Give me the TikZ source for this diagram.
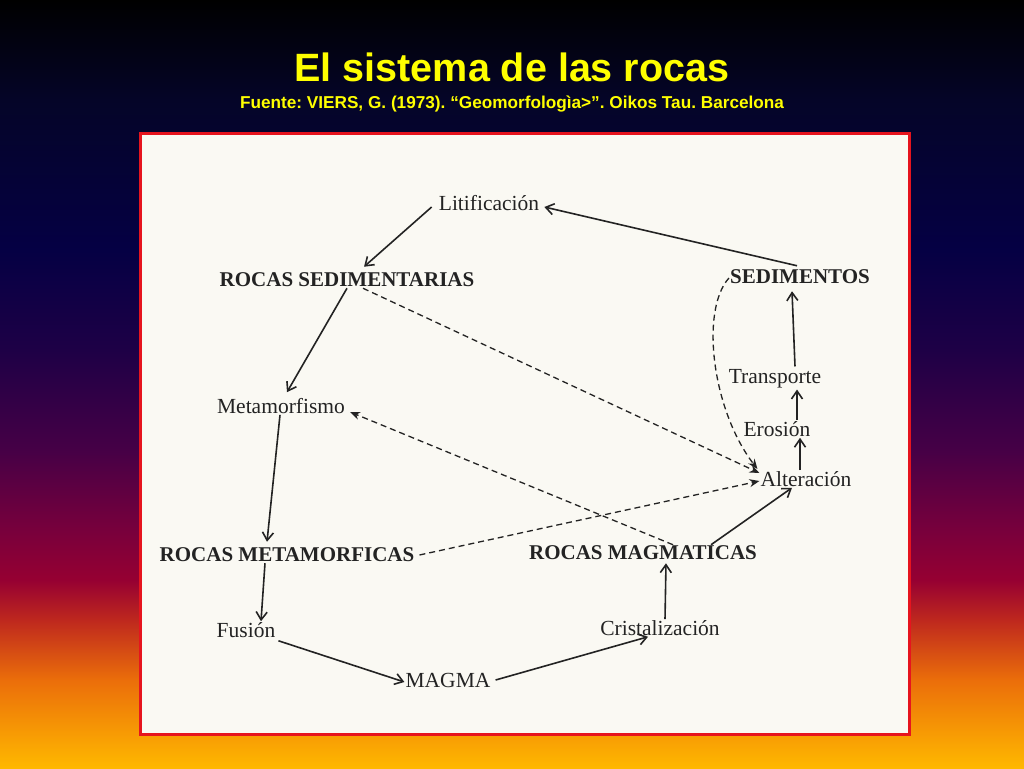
\documentclass[tikz,border=0pt]{standalone}
\usepackage{fontspec}
\setmainfont{Liberation Serif}
\newfontfamily\titlefont{Liberation Sans}
\usetikzlibrary{arrows.meta,calc}
\frenchspacing
\definecolor{ink}{RGB}{35,35,35}
\definecolor{paper}{RGB}{250,249,243}
\definecolor{boxred}{RGB}{230,20,30}
\definecolor{titleyellow}{RGB}{255,255,0}
\definecolor{bgA}{RGB}{255,184,0}
\definecolor{bgB}{RGB}{235,110,10}
\definecolor{bgC}{RGB}{190,40,30}
\definecolor{bgD}{RGB}{150,0,50}
\definecolor{bgE}{RGB}{120,0,60}
\definecolor{bgF}{RGB}{70,0,70}
\definecolor{bgG}{RGB}{30,0,70}
\definecolor{bgH}{RGB}{5,0,68}
\definecolor{bgI}{RGB}{5,5,40}
\definecolor{bgJ}{RGB}{0,0,0}
\pgfdeclareverticalshading{bgshade}{100bp}{%
  color(0bp)=(bgA);
  color(25bp)=(bgA);
  color(30.73bp)=(bgB);
  color(34.64bp)=(bgC);
  color(37.24bp)=(bgD);
  color(40.49bp)=(bgE);
  color(45.70bp)=(bgF);
  color(52.21bp)=(bgG);
  color(58.72bp)=(bgH);
  color(68.49bp)=(bgI);
  color(75bp)=(bgJ);
  color(100bp)=(bgJ)}
\tikzset{
  proc/.style={font=\fontsize{21.5}{24}\selectfont, text=ink, inner sep=1pt},
  rock/.style={font=\bfseries\fontsize{21}{24}\selectfont, text=ink, inner sep=1pt},
  flow/.style={draw=ink, line width=1.6pt, -{Straight Barb[length=8pt,width=11pt,line width=1.6pt]}},
  dflow/.style={draw=ink, line width=1.3pt, dash pattern=on 6pt off 4pt, -{Stealth[length=10pt,width=8pt]}}
}
\begin{document}
\begin{tikzpicture}[x=1pt,y=-1pt]
\useasboundingbox (0,0) rectangle (1024,768);
\shade[shading=bgshade] (0,0) rectangle (1024,768);
\node[text=titleyellow, font=\titlefont\bfseries\fontsize{39.5}{44}\selectfont] (title) at (512,67) {El sistema de las rocas};
\node[text=titleyellow, font=\titlefont\bfseries\fontsize{17.2}{20}\selectfont] (subtitle) at (512,104) {Fuente: VIERS, G. (1973). “Geomorfologìa>”. Oikos Tau. Barcelona};
\draw[boxred, line width=3pt, fill=paper] (140,133) rectangle (909,734);

\node[proc] (lit) at (489,203) {Litificación};
\node[rock] (rsed) at (347,280) {ROCAS SEDIMENTARIAS};
\node[rock] (sedim) at (800,277) {SEDIMENTOS};
\node[proc] (meta) at (281,406) {Metamorfismo};
\node[proc] (trans) at (775,379) {Transporte};
\node[proc] (ero) at (777,429) {Erosión};
\node[proc] (alt) at (806,479) {Alteración};
\node[rock] (rmet) at (287,555) {ROCAS METAMORFICAS};
\node[rock] (rmag) at (643,553) {ROCAS MAGMATICAS};
\node[proc] (fus) at (246,630) {Fusión};
\node[proc] (crist) at (660,628) {Cristalización};
\node[proc] (mag) at (448,680) {MAGMA};

\draw[flow] ([xshift=-3pt,yshift=3pt]sedim.north) -- ([xshift=4pt,yshift=-4pt]lit.east);
\draw[flow] ([xshift=-6pt,yshift=-4pt]lit.west) -- ([xshift=17pt,yshift=5pt]rsed.north);
\draw[flow] ([xshift=0pt]rsed.south) -- ([xshift=6pt,yshift=5pt]meta.north);
\draw[flow] ([xshift=-1pt]meta.south) -- ([xshift=-20pt,yshift=5pt]rmet.north);
\draw[flow] ([xshift=-22pt]rmet.south) -- ([xshift=15pt]fus.north);
\draw[flow] ([xshift=2pt,yshift=-2pt]fus.south east) -- ([yshift=-2pt]mag.west);
\draw[flow] ([xshift=4pt]mag.east) -- ([xshift=-12pt]crist.south);
\draw[flow] ([xshift=5pt]crist.north) -- ([xshift=23pt,yshift=-2pt]rmag.south);
\draw[flow] ([xshift=68pt]rmag.north) -- ([xshift=-14pt]alt.south);
\draw[flow] ([xshift=-6pt]alt.north) -- ([xshift=23pt]ero.south);
\draw[flow] ([xshift=20pt]ero.north) -- ([xshift=22pt]trans.south);
\draw[flow] ([xshift=20pt,yshift=2pt]trans.north) -- ([xshift=-8pt,yshift=-6pt]sedim.south);

\draw[dflow] ([xshift=16pt]rsed.south) -- ([yshift=6pt]alt.west);
\draw[dflow] ([xshift=30pt]rmag.north) -- ([xshift=4pt,yshift=-6pt]meta.east);
\draw[dflow] ([xshift=4pt]rmet.east) -- ([yshift=-2pt]alt.west);
\draw[dflow] ([yshift=-1pt]sedim.west) .. controls (700,310) and (712,410) .. ([xshift=-2pt,yshift=10pt]alt.west);
\end{tikzpicture}
\end{document}
